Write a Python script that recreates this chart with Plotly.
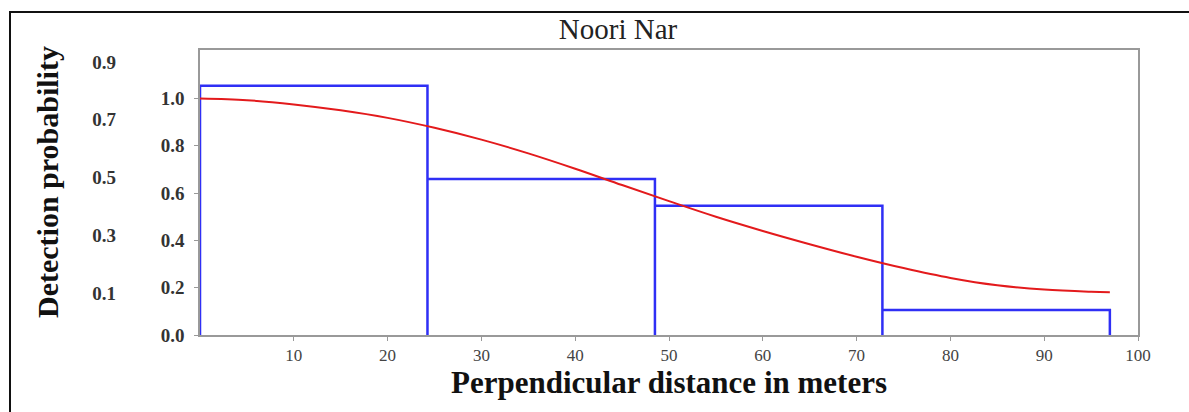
import plotly.graph_objects as go

# Histogram of detections (bin edges and scaled heights)
bin_edges = [0, 24.25, 48.5, 72.75, 97]
bar_heights = [1.054, 0.66, 0.547, 0.106]

# Fitted detection function
curve_x = [0, 5, 10, 15, 20, 25, 30, 35, 40, 45, 50, 55, 60, 65, 70, 75, 80, 85, 90, 95, 97]
curve_y = [1.000, 0.993, 0.975, 0.950, 0.918, 0.876, 0.826, 0.768, 0.703, 0.634, 0.566,
           0.500, 0.440, 0.384, 0.331, 0.283, 0.241, 0.210, 0.192, 0.183, 0.181]

x_ticks = [10, 20, 30, 40, 50, 60, 70, 80, 90, 100]
y_ticks = [0.0, 0.2, 0.4, 0.6, 0.8, 1.0]
y_ticks_outer = [0.1, 0.3, 0.5, 0.7, 0.9]

title_text = "Noori Nar"
x_title = "Perpendicular distance in meters"
y_title = "Detection probability"

SERIF = "Liberation Serif"

# build histogram outline from arrays
hx, hy = [bin_edges[0]], [0]
for i, h in enumerate(bar_heights):
    hx += [bin_edges[i], bin_edges[i + 1], bin_edges[i + 1]]
    hy += [h, h, 0]

fig = go.Figure()
fig.add_trace(go.Scatter(x=hx, y=hy, mode="lines",
                         line=dict(color="#2f2ff5", width=2.5), showlegend=False))
fig.add_trace(go.Scatter(x=curve_x, y=curve_y, mode="lines", line_shape="spline",
                         line=dict(color="#e31a1c", width=2), showlegend=False))
# dummy trace to activate second y axis
fig.add_trace(go.Scatter(x=[None], y=[None], yaxis="y2", showlegend=False))

W, H = 1189, 412
L, R, T, B = 10, 51, 50, 77
plot_w = W - L - R
x_dom0 = (200 - L) / plot_w
ph = H - T - B

fig.update_layout(
    width=W, height=H,
    margin=dict(l=L, r=R, t=T, b=B),
    plot_bgcolor="white", paper_bgcolor="white",
    xaxis=dict(domain=[x_dom0, 1], range=[0, 100], tickvals=x_ticks,
               ticks="outside", ticklen=4, tickcolor="#999",
               showline=True, linecolor="#999", linewidth=1.5, mirror=True,
               showgrid=False, zeroline=False,
               tickfont=dict(family=SERIF, size=17, color="#444"),
               title=dict(text=x_title, standoff=6,
                          font=dict(family=SERIF, size=31, color="#111", weight="bold"))),
    yaxis=dict(range=[0, 1.205], tickvals=y_ticks, tickformat=".1f",
               ticks="outside", ticklen=4, tickcolor="#999",
               showline=True, linecolor="#999", linewidth=1.5, mirror=True,
               showgrid=False, zeroline=False, ticklabelstandoff=6,
               tickfont=dict(family=SERIF, size=19, color="#333", weight="bold")),
    yaxis2=dict(overlaying="y", anchor="free", side="left",
                position=(116 - L) / plot_w,
                range=[-0.0455, 0.9416], tickvals=y_ticks_outer, tickformat=".1f",
                showline=False, ticks="", showgrid=False, zeroline=False,
                tickfont=dict(family=SERIF, size=19, color="#333", weight="bold")),
    title=dict(text=title_text, x=618 / W, xref="container", xanchor="center",
               y=1 - 29 / H, yref="container", yanchor="middle",
               font=dict(family=SERIF, size=29, color="#222")),
    annotations=[dict(text=y_title, xref="paper", yref="paper",
                      x=(47 - L) / plot_w, y=(335 - 182) / ph, textangle=-90,
                      showarrow=False, xanchor="center", yanchor="middle",
                      font=dict(family=SERIF, size=30, color="#111", weight="bold"))],
    shapes=[dict(type="rect", xref="paper", yref="paper",
                 x0=0, x1=1.2, y0=-1, y1=1 + (50 - 12) / ph,
                 line=dict(color="#111", width=2), layer="below")],
)

fig.write_html("out.html")
